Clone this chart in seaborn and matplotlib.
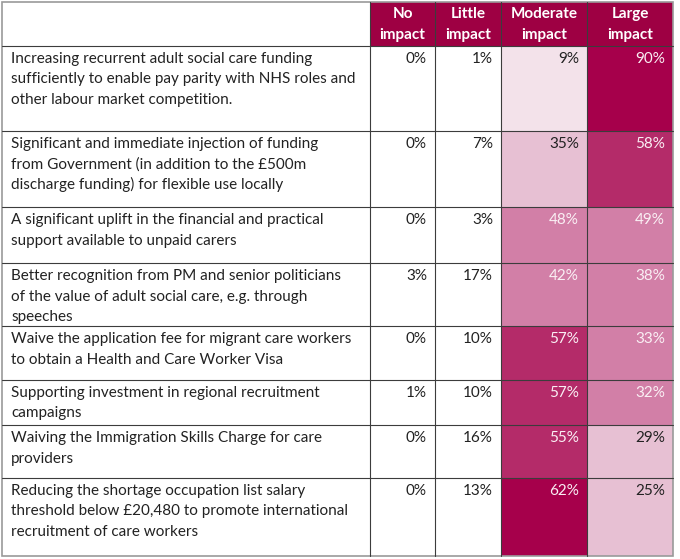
import numpy as np
import seaborn as sns
import matplotlib.pyplot as plt
from matplotlib.colors import ListedColormap
from matplotlib.patches import Rectangle

measures = [
    "Increasing recurrent adult social care funding\nsufficiently to enable pay parity with NHS roles and\nother labour market competition.",
    "Significant and immediate injection of funding\nfrom Government (in addition to the £500m\ndischarge funding) for flexible use locally",
    "A significant uplift in the financial and practical\nsupport available to unpaid carers",
    "Better recognition from PM and senior politicians\nof the value of adult social care, e.g. through\nspeeches",
    "Waive the application fee for migrant care workers\nto obtain a Health and Care Worker Visa",
    "Supporting investment in regional recruitment\ncampaigns",
    "Waiving the Immigration Skills Charge for care\nproviders",
    "Reducing the shortage occupation list salary\nthreshold below £20,480 to promote international\nrecruitment of care workers",
]
headers = ["No\nimpact", "Little\nimpact", "Moderate\nimpact", "Large\nimpact"]
no_impact = [0, 0, 0, 3, 0, 1, 0, 0]
little_impact = [1, 7, 3, 17, 10, 10, 16, 13]
moderate_impact = [9, 35, 48, 42, 57, 57, 55, 62]
large_impact = [90, 58, 49, 38, 33, 32, 29, 25]

sns.set_theme(style="white")
plt.rcParams['font.family'] = ['Lato', 'DejaVu Sans']

# table layout (pixels)
col_edges = [2, 370, 435, 501, 587, 673]
row_edges = [2, 46, 131, 207, 263, 326, 380, 425, 478, 556]

shades = ["#F3E2EA", "#E7C0D3", "#D27FA7", "#B42B69", "#A6004B"]
header_col = "#9E0043"
text_col = "#222222"
cmap = ListedColormap(sns.color_palette(shades))

# colour scale is set per column, like the spreadsheet
mod_level = np.digitize(moderate_impact, [20, 40, 50, 60])
large_level = np.digitize(large_impact, [20, 30, 50, 60])
levels = np.column_stack([mod_level, large_level])

fig = plt.figure(figsize=(6.8, 5.59), dpi=100)
ax = fig.add_axes([0, 0, 1, 1])
ax.set_xlim(0, 680)
ax.set_ylim(559, 0)
ax.axis('off')

ax.pcolormesh(col_edges[3:], row_edges[1:], levels, cmap=cmap, vmin=-0.5, vmax=4.5)
ax.add_patch(Rectangle((col_edges[1], row_edges[0]), col_edges[-1] - col_edges[1],
                       row_edges[1] - row_edges[0], color=header_col, lw=0))

# grid
for y in row_edges[1:-1]:
    ax.plot([col_edges[0], col_edges[-1]], [y, y], color="#3c3c3c", lw=0.8)
for x in col_edges[1:-1]:
    ax.plot([x, x], [row_edges[0], row_edges[-1]], color="#3c3c3c", lw=0.8)
ax.add_patch(Rectangle((col_edges[0], row_edges[0]), col_edges[-1] - col_edges[0],
                       row_edges[-1] - row_edges[0], fill=False, ec="#9a9a9a", lw=1.2))

fs = 11
for c, h in enumerate(headers):
    cx = (col_edges[c + 1] + col_edges[c + 2]) / 2
    for j, line in enumerate(h.split("\n")):
        ax.text(cx, 18 + j * 20.5, line, ha='center', va='baseline',
                color='white', fontsize=fs, fontweight='bold')

columns = [no_impact, little_impact, moderate_impact, large_impact]
for i, label in enumerate(measures):
    top = row_edges[i + 1]
    for j, line in enumerate(label.split("\n")):
        ax.text(11, top + 17 + j * 20.5, line, ha='left', va='baseline',
                color=text_col, fontsize=fs)
    for c, vals in enumerate(columns):
        colour = text_col
        if c >= 2 and levels[i, c - 2] >= 2:
            colour = "#FAEFF4"
        ax.text(col_edges[c + 2] - 8, top + 17, f"{vals[i]}%", ha='right',
                va='baseline', color=colour, fontsize=fs)

fig.savefig('out.png', dpi=100)
